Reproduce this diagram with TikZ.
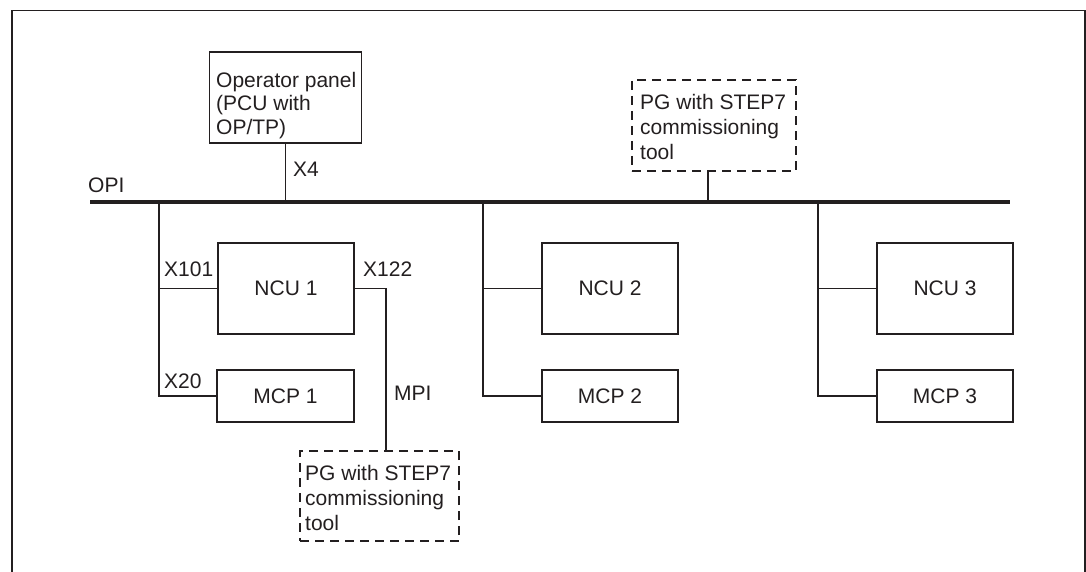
\documentclass[tikz,border=0pt]{standalone}
\usepackage{fontspec}
\setmainfont{Liberation Sans}
\definecolor{ink}{RGB}{35,31,32}
\begin{document}
\begin{tikzpicture}[x=1pt,y=-1pt,
  every node/.style={text=ink},
  box/.style={draw=ink, line width=1.8pt, rectangle, inner sep=0pt,
    font=\fontsize{21}{24}\selectfont},
  pgbox/.style={draw=ink, line width=1.8pt, rectangle, inner sep=0pt,
    dash pattern=on 9pt off 6pt},
  txt/.style={inner sep=0pt, font=\fontsize{21}{24}\selectfont},
  multi/.style={inner sep=0pt, align=left, anchor=north west,
    font=\fontsize{21}{#1}\selectfont},
  wire/.style={draw=ink, line width=1.6pt},
  bus/.style={draw=ink, line width=4pt}]
\useasboundingbox (0,0) rectangle (1086,572);

% outer frame, open at the bottom
\draw[ink, line width=1.8pt] (12,572) -- (12,10.5) -- (1085,10.5) -- (1085,572);

% OPI bus
\coordinate (busL) at (90,202);
\coordinate (busR) at (1010,202);
\draw[bus] (busL) -- (busR);
\node[txt, anchor=base west] (opi) at (88,193) {OPI};

% operator panel on X4
\node[box, minimum width=152pt, minimum height=91pt] (op) at (285.5,97.5) {};
\node[multi=23.5] (opt) at (216,72) {Operator panel\\(PCU with\\OP/TP)};
\draw[wire] (op.south) -- (op.south |- busL);
\node[txt, anchor=base west] (x4) at (293,177) {X4};

% PG on the bus
\node[pgbox, minimum width=164pt, minimum height=91pt] (pg1) at (714,125.5) {};
\node[multi=25] (pg1t) at (640,94) {PG with STEP7\\commissioning\\tool};
\coordinate (pg1c) at ([xshift=-6pt]pg1.south);
\draw[wire] (pg1c) -- (pg1c |- busL);

% NCU / MCP groups
\node[box, minimum width=136pt, minimum height=91pt] (ncu1) at (286,288.5) {NCU 1};
\node[box, minimum width=137pt, minimum height=52pt] (mcp1) at (285.5,396) {MCP 1};
\node[box, minimum width=136pt, minimum height=91pt] (ncu2) at (610,288.5) {NCU 2};
\node[box, minimum width=136pt, minimum height=52pt] (mcp2) at (610,396) {MCP 2};
\node[box, minimum width=136pt, minimum height=91pt] (ncu3) at (945,288.5) {NCU 3};
\node[box, minimum width=136pt, minimum height=52pt] (mcp3) at (945,396) {MCP 3};

\coordinate (b1) at (159,202);
\coordinate (b2) at (483,202);
\coordinate (b3) at (818,202);
\draw[wire] (b1) -- (b1 |- mcp1.west) -- (mcp1.west);
\draw[wire] (b1 |- ncu1.west) -- (ncu1.west);
\draw[wire] (b2) -- (b2 |- mcp2.west) -- (mcp2.west);
\draw[wire] (b2 |- ncu2.west) -- (ncu2.west);
\draw[wire] (b3) -- (b3 |- mcp3.west) -- (mcp3.west);
\draw[wire] (b3 |- ncu3.west) -- (ncu3.west);

\node[txt, anchor=base west] (x101) at (164,276) {X101};
\node[txt, anchor=base west] (x20) at (164,388) {X20};

% MPI link to the second PG
\node[pgbox, minimum width=159pt, minimum height=90pt] (pg2) at (379.5,496) {};
\node[multi=25] (pg2t) at (305,465) {PG with STEP7\\commissioning\\tool};
\coordinate (pg2c) at ([xshift=6.5pt]pg2.north);
\draw[wire] (ncu1.east) -- (ncu1.east -| pg2c) -- (pg2c);
\node[txt, anchor=base west] (x122) at (363,276) {X122};
\node[txt, anchor=base west] (mpi) at (394,400) {MPI};
\end{tikzpicture}
\end{document}
